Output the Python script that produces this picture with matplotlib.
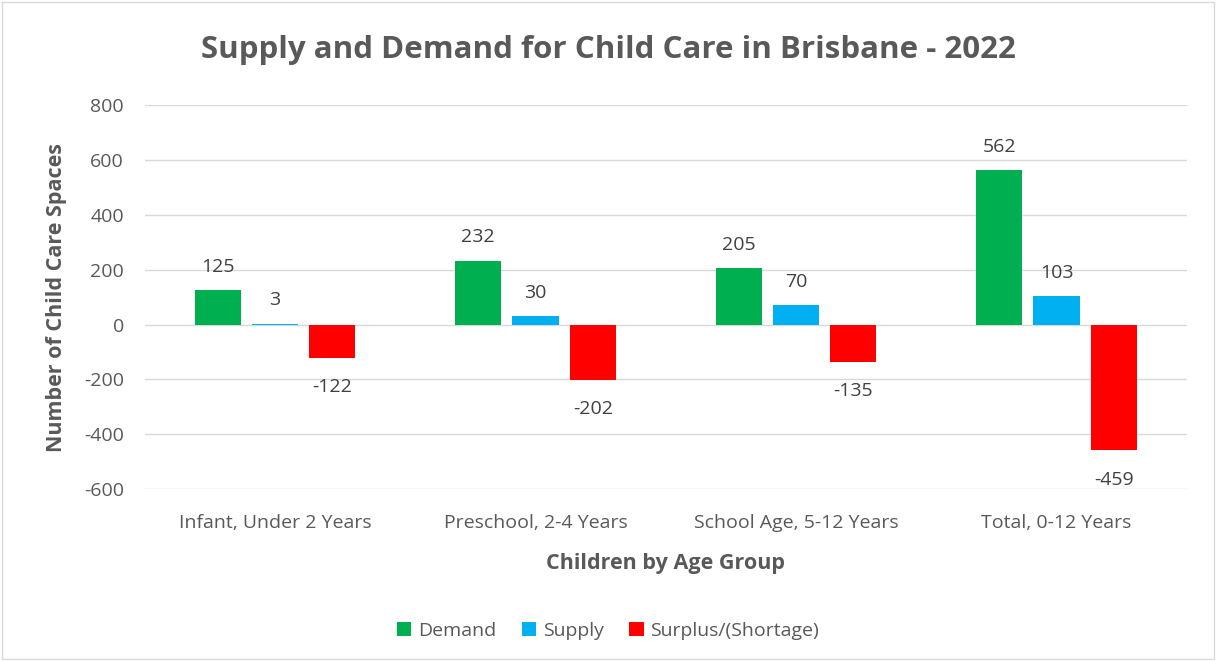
import numpy as np
import matplotlib
matplotlib.use("Agg")
import matplotlib.pyplot as plt
from matplotlib.patches import Rectangle

plt.rcParams['font.family'] = ['Open Sans', 'DejaVu Sans']
plt.rcParams['axes.unicode_minus'] = False

categories = ["Infant, Under 2 Years", "Preschool, 2-4 Years",
              "School Age, 5-12 Years", "Total, 0-12 Years"]
demand = [125, 232, 205, 562]
supply = [3, 30, 70, 103]
surplus = [-122, -202, -135, -459]
series_names = ["Demand", "Supply", "Surplus/(Shortage)"]
colors = ["#00B050", "#00B0F0", "#FF0000"]

fig = plt.figure(figsize=(12.16, 6.61), dpi=100)
fig.patches.append(Rectangle((0.002, 0.003), 0.996, 0.994, transform=fig.transFigure,
                             fill=False, edgecolor="#D9D9D9", lw=1))
ax = fig.add_axes([0.119, 0.260, 0.857, 0.581])

x = np.arange(len(categories))
step = 0.22
width = 0.177
text_col = "#404040"
for i, (vals, name, c) in enumerate(zip([demand, supply, surplus], series_names, colors)):
    pos = x + (i - 1) * step
    ax.bar(pos, vals, width, color=c, label=name, zorder=3)
    for xp, v in zip(pos, vals):
        off = 17 if v >= 0 else -21
        ax.annotate(str(v), (xp, v), xytext=(0, off), textcoords="offset points",
                    ha="center", va="center", fontsize=14, color=text_col)

ax.set_xlim(-0.5, 3.5)
ax.set_ylim(-600, 800)
ax.set_yticks(np.arange(-600, 801, 200))
ax.set_xticks(x)
ax.set_xticklabels(categories)
ax.tick_params(axis="both", length=0, labelsize=14, labelcolor="#595959")
ax.tick_params(axis="x", pad=18)
ax.tick_params(axis="y", pad=15)
ax.grid(axis="y", color="#D9D9D9", lw=1, zorder=0)
for s in ax.spines.values():
    s.set_visible(False)

ax.set_ylabel("Number of Child Care Spaces", fontsize=15.5, fontweight="bold", color="#595959", labelpad=12)
ax.set_xlabel("Children by Age Group", fontsize=15.5, fontweight="bold", color="#595959", labelpad=15)
fig.text(0.5, 0.924, "Supply and Demand for Child Care in Brisbane - 2022", ha="center", va="center",
         fontsize=22.5, fontweight="bold", color="#595959")

fig.legend(loc="center", bbox_to_anchor=(0.5, 0.046), ncol=3, frameon=False, fontsize=14,
           handlelength=0.75, handleheight=0.75, handletextpad=0.35, columnspacing=1.3,
           labelcolor="#595959")

fig.savefig("out.png", dpi=100)
